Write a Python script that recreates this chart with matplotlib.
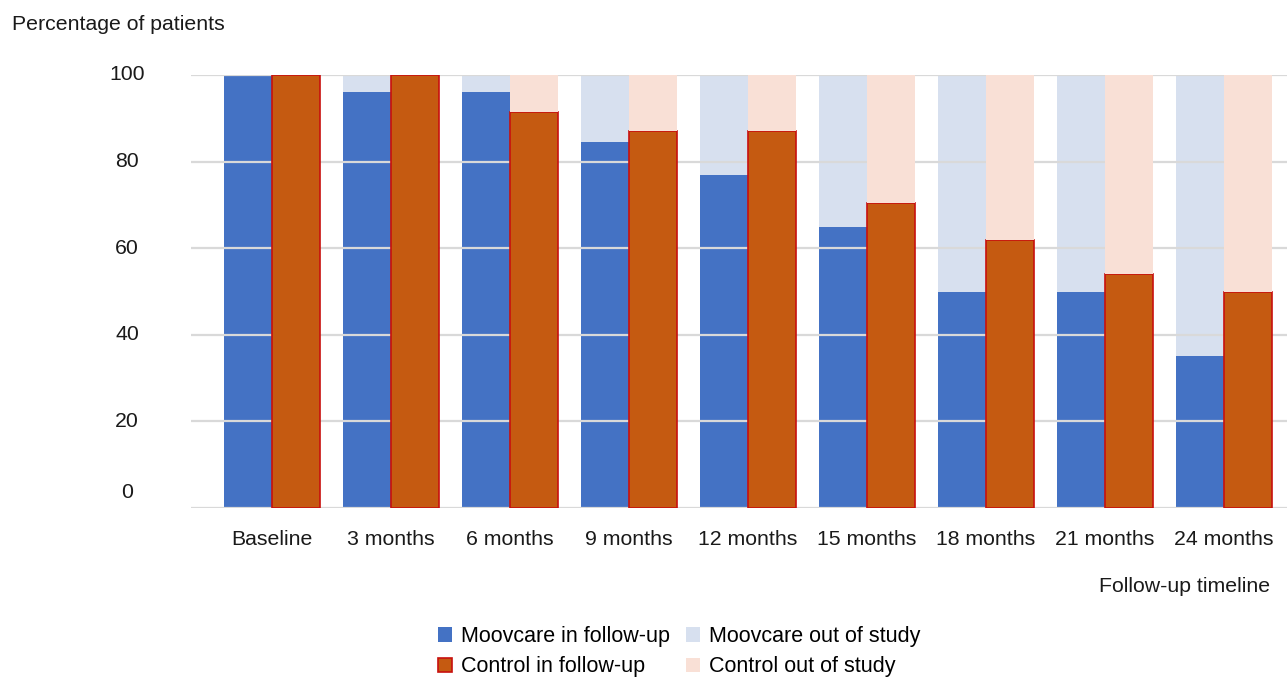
import matplotlib.pyplot as plt
import matplotlib.transforms as mtransforms
from matplotlib.patches import Patch
import numpy as np

plt.rcParams['font.family'] = ['Liberation Sans', 'DejaVu Sans']

# follow-up visits and share of patients still followed (%)
timepoints = ['Baseline', '3 months', '6 months', '9 months', '12 months',
              '15 months', '18 months', '21 months', '24 months']
moovcare_in = [100, 96, 96, 84.5, 77, 65, 50, 50, 35]
control_in = [100, 100, 91.5, 87, 87, 70.5, 62, 54, 50]
yticks = [0, 20, 40, 60, 80, 100]

BLUE = '#4472c4'
BLUE_LIGHT = '#d7e0ef'
ORANGE = '#c55a11'
PINK = '#f9e0d6'
RED_EDGE = '#c8100e'
GRID = '#d9d9d9'
TXT = '#1a1a1a'
FS = 15.3

W, H = 1287, 677
fig = plt.figure(figsize=(W / 100, H / 100), dpi=100)
ax = fig.add_axes([191 / W, 169 / H, 1 - 191 / W, 433 / H])

x = np.arange(len(timepoints))
w = 0.4
moov_out = [100 - v for v in moovcare_in]
ctrl_out = [100 - v for v in control_in]

ax.bar(x - w / 2, moovcare_in, w, color=BLUE, zorder=1)
ax.bar(x - w / 2, moov_out, w, bottom=moovcare_in, color=BLUE_LIGHT, zorder=1)
ax.bar(x + w / 2, control_in, w, color=ORANGE, edgecolor=RED_EDGE,
       linewidth=1.2, zorder=3)
ax.bar(x + w / 2, ctrl_out, w, bottom=control_in, color=PINK, zorder=3)

# horizontal guides, sitting between the two bar series
for yv in yticks:
    ax.axhline(yv, color=GRID, lw=1.6, zorder=2)

ax.set_xlim(-0.68, len(timepoints) - 0.47)
ax.set_ylim(0, 100)
for s in ax.spines.values():
    s.set_visible(False)
ax.set_yticks([])
ax.set_xticks(x)
ax.set_xticklabels(timepoints, fontsize=FS, color=TXT)
ax.tick_params(axis='x', length=0, pad=16)

# y labels centred in a column left of the plot
ytrans = ax.get_yaxis_transform()
for yv in yticks:
    tr = ytrans
    if yv == 0:
        tr = mtransforms.offset_copy(ytrans, fig=fig, x=0, y=15, units='dots')
    ax.text(-0.0584, yv, str(yv), transform=tr, ha='center', va='center',
            fontsize=FS, color=TXT)

fig.text(12 / W, 1 - 25 / H, 'Percentage of patients', ha='left',
         va='center', fontsize=FS, color=TXT)
fig.text(1270 / W, 1 - 587 / H, 'Follow-up timeline', ha='right',
         va='center', fontsize=FS, color=TXT)

handles = [
    Patch(facecolor=BLUE, label='Moovcare in follow-up'),
    Patch(facecolor=ORANGE, edgecolor=RED_EDGE, linewidth=1.2,
          label='Control in follow-up'),
    Patch(facecolor=BLUE_LIGHT, label='Moovcare out of study'),
    Patch(facecolor=PINK, label='Control out of study'),
]
fig.legend(handles=handles, ncol=2, loc='upper left',
           bbox_to_anchor=(438 / W, 1 - 626 / H), frameon=False,
           fontsize=15.5, handlelength=0.65, handleheight=0.65,
           handletextpad=0.42, columnspacing=0.75, labelspacing=0.44,
           borderpad=0, borderaxespad=0)

fig.savefig('out.png', dpi=100)
